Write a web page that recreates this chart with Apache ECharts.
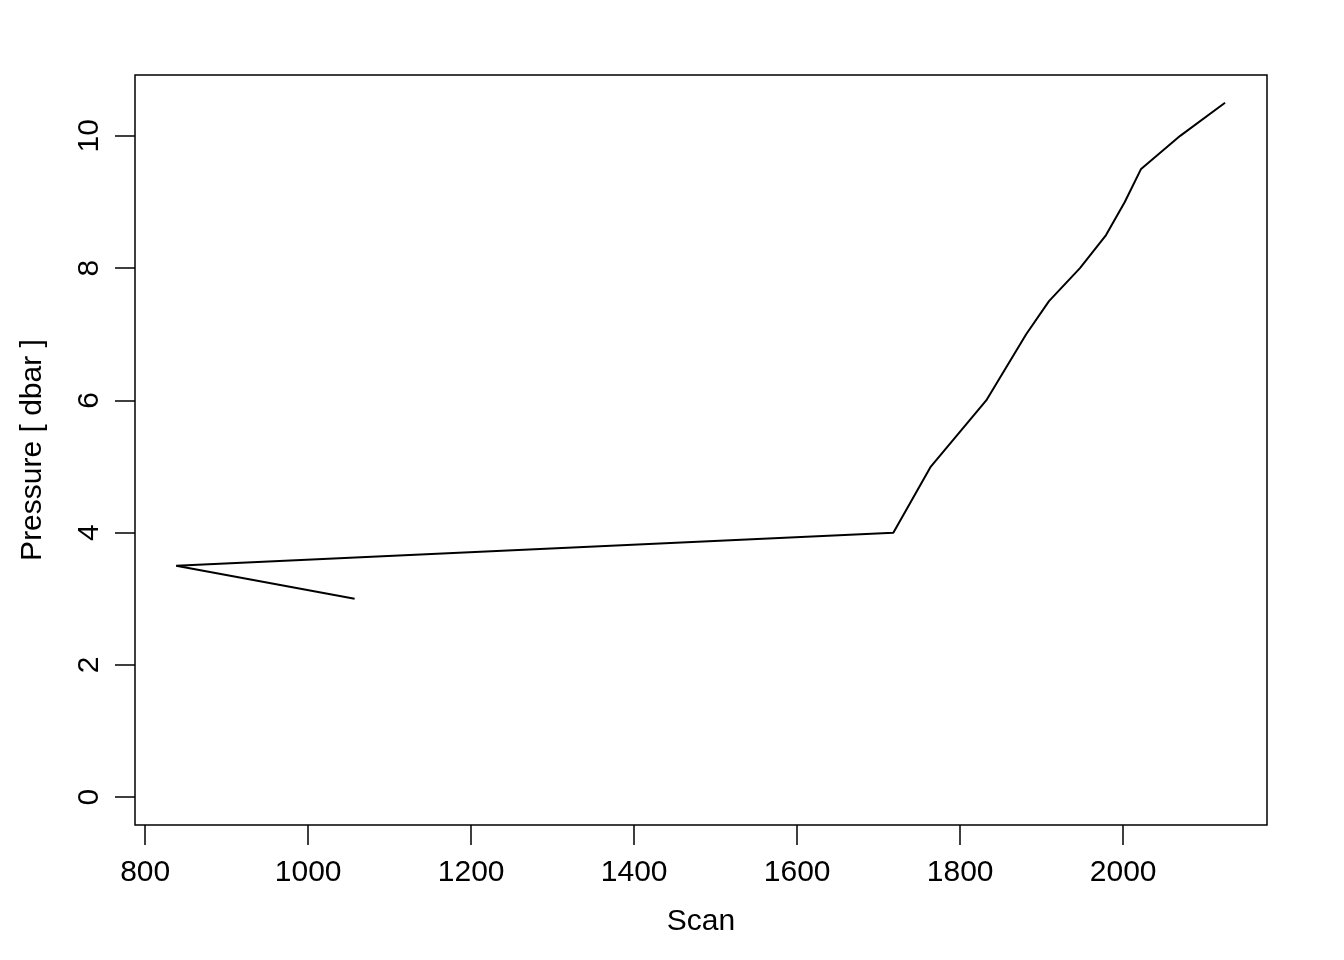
<!DOCTYPE html>
<html>
<head>
<meta charset="utf-8">
<script src="https://cdn.jsdelivr.net/npm/echarts@6/dist/echarts.min.js"></script>
<style>
  html, body { margin: 0; padding: 0; background: #fff; }
  #chart { width: 1344px; height: 960px; }
</style>
</head>
<body>
<div id="chart"></div>
<script>
  // scan number and pressure, in recorded order
  const scan = [1057, 838, 1718, 1764, 1832, 1881, 1909, 1947, 1979, 2002, 2022, 2070, 2125];
  const pressure = [3.0, 3.5, 4.0, 5.0, 6.0, 7.0, 7.5, 8.0, 8.5, 9.0, 9.5, 10.0, 10.5];
  const xTicks = [800, 1000, 1200, 1400, 1600, 1800, 2000];
  const yTicks = [0, 2, 4, 6, 8, 10];

  let chart = echarts.init(document.getElementById('chart'));
  let options = {
    animation: false,
    textStyle: {
      fontFamily: 'Liberation Sans, Arial, sans-serif'
    },
    grid: {
      left: 135,
      right: 77,
      top: 75,
      bottom: 135,
      show: true,
      borderColor: '#000',
      borderWidth: 1.5
    },
    xAxis: {
      type: 'value',
      min: 787.5,
      max: 2176.5,
      name: 'Scan',
      nameLocation: 'middle',
      nameGap: 82,
      nameTextStyle: { color: '#000', fontSize: 30 },
      axisLine: { show: false, onZero: false },
      splitLine: { show: false },
      axisTick: {
        show: true,
        length: 20,
        customValues: xTicks,
        lineStyle: { color: '#000', width: 1.5 }
      },
      axisLabel: {
        customValues: xTicks,
        color: '#000',
        fontSize: 30,
        margin: 33,
        formatter: (value) => String(value)
      }
    },
    yAxis: {
      type: 'value',
      min: -0.42,
      max: 10.92,
      name: 'Pressure [ dbar ]',
      nameLocation: 'middle',
      nameRotate: 90,
      nameGap: 87,
      nameTextStyle: { color: '#000', fontSize: 30 },
      axisLine: { show: false, onZero: false },
      splitLine: { show: false },
      axisTick: {
        show: true,
        length: 20,
        customValues: yTicks,
        lineStyle: { color: '#000', width: 1.5 }
      },
      axisLabel: {
        customValues: yTicks,
        color: '#000',
        fontSize: 30,
        rotate: 90,
        margin: 30,
        formatter: (value) => String(value)
      }
    },
    series: [
      {
        type: 'line',
        data: scan.map((s, i) => [s, pressure[i]]),
        symbol: 'none',
        lineStyle: { color: '#000', width: 2 }
      }
    ]
  };
  chart.setOption(options);
</script>
</body>
</html>
